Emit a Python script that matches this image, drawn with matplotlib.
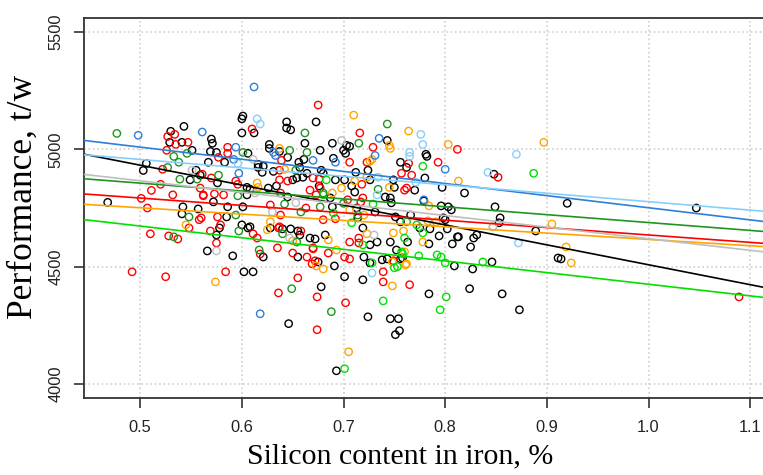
import numpy as np
import matplotlib
matplotlib.use("Agg")
from matplotlib import pyplot as plt

# (silicon %, performance t/w) per group
black = [(0.468,4774),(0.506,4940),(0.503,4910),(0.543,5098),(0.530,5077),(0.529,5030),(0.541,5030),(0.551,4996),
         (0.555,4911),(0.559,4890),(0.549,4870),(0.542,4755),(0.541,4725),(0.557,4746),
         (0.601,5142),(0.600,5130),(0.644,5117),(0.644,5091),(0.648,5083),(0.600,5070),(0.612,5070),(0.662,5026),
         (0.570,5044),(0.571,5026),(0.569,4991),(0.575,4987),(0.606,4983),(0.627,5021),(0.627,5004),(0.637,4991),
         (0.645,4966),(0.656,4945),(0.661,4957),(0.567,4945),(0.583,4945),(0.616,4936),(0.621,4928),(0.616,4923),
         (0.620,4902),(0.631,4906),(0.657,4923),(0.664,4898),(0.654,4878),(0.576,4857),(0.605,4838),(0.608,4830),
         (0.626,4835),(0.634,4844),(0.650,4870),(0.660,4881),(0.605,4806),(0.645,4797),(0.572,4776),(0.586,4755),
         (0.585,4712),(0.601,4755),(0.600,4678),(0.608,4670),
         (0.673,5117),(0.689,5026),(0.703,5017),(0.706,5013),(0.743,5038),(0.700,4996),(0.702,4983),(0.677,4996),
         (0.690,4962),(0.756,4945),(0.762,4923),(0.712,4902),(0.724,4911),(0.678,4911),(0.680,4898),(0.726,4870),
         (0.749,4870),(0.701,4870),(0.692,4870),(0.708,4844),(0.676,4844),(0.750,4838),(0.770,4826),(0.711,4818),
         (0.741,4797),(0.746,4793),(0.747,4772),(0.687,4793),(0.689,4755),(0.713,4750),(0.731,4733),(0.714,4708),
         (0.751,4712),(0.756,4691),(0.766,4720),(0.775,4665),
         (0.781,4979),(0.782,4970),(0.848,4894),(0.780,4878),(0.797,4838),(0.819,4814),(0.779,4780),(0.796,4759),
         (0.803,4755),(0.806,4742),(0.849,4755),(0.854,4708),(0.853,4687),(0.798,4708),(0.800,4700),
         (1.047,4750),(0.920,4770),(0.889,4652),(0.812,4627),(0.831,4635),(0.828,4622),(0.802,4661),(0.914,4533),
         (0.873,4316),(0.856,4384),(0.824,4406),(0.784,4384),(0.754,4278),(0.751,4210),(0.755,4227),(0.846,4520),
         (0.827,4490),(0.809,4503),(0.784,4597),(0.807,4597),(0.825,4584),(0.756,4533),(0.813,4627),(0.794,4631),
         (0.785,4661),(0.911,4537),
         (0.678,4414),(0.693,4056),(0.724,4286),(0.746,4278),(0.701,4457),(0.719,4444),(0.691,4503),(0.675,4520),
         (0.726,4516),(0.738,4529),(0.743,4533),(0.758,4537),(0.720,4541),(0.726,4593),(0.733,4605),(0.746,4605),
         (0.682,4635),(0.672,4618),(0.752,4571),(0.763,4605),(0.719,4665),
         (0.646,4257),(0.602,4478),(0.611,4478),(0.591,4546),(0.566,4567),(0.575,4635),(0.578,4665),(0.606,4665),
         (0.621,4541),(0.628,4665),(0.640,4661),(0.648,4661),(0.655,4652),(0.657,4635),(0.655,4541),(0.667,4622)]

red = [(0.501,4791),(0.511,4825),(0.520,4851),(0.507,4750),(0.492,4478),(0.525,4457),(0.510,4640),(0.528,4631),
       (0.537,4618),(0.548,4665),(0.527,5055),(0.534,5064),(0.535,5021),(0.547,5030),(0.526,4996),(0.522,4915),
       (0.559,4835),(0.532,4806),(0.562,4802),(0.558,4700),(0.560,4708),
       (0.610,5087),(0.586,5009),(0.586,4983),(0.639,4953),(0.577,4966),(0.637,4911),(0.561,4894),(0.570,4878),
       (0.562,4806),(0.573,4810),(0.582,4806),(0.594,4865),(0.596,4851),(0.637,4870),(0.645,4865),(0.667,4826),
       (0.638,4814),(0.663,4750),(0.576,4712),(0.628,4763),(0.638,4720),(0.579,4678),(0.637,4670),
       (0.675,5189),(0.716,5070),(0.729,5009),(0.723,4945),(0.706,4945),(0.764,4940),(0.757,4898),(0.767,4890),
       (0.670,4878),(0.676,4873),(0.718,4851),(0.677,4835),(0.762,4835),(0.760,4826),(0.673,4806),(0.704,4785),
       (0.719,4793),(0.717,4776),(0.680,4700),(0.692,4704),
       (0.812,5000),(0.793,4945),(0.852,4881),
       (1.089,4371),(0.765,4423),(0.739,4478),(0.739,4435),(0.674,4371),(0.702,4346),(0.674,4231),(0.701,4541),
       (0.706,4533),(0.685,4558),(0.670,4576),(0.715,4601),(0.715,4622),(0.706,4605),(0.749,4525),(0.672,4525),
       (0.636,4388),(0.655,4452),(0.584,4478),(0.575,4601),(0.569,4652),(0.611,4640),(0.615,4622),(0.618,4554),
       (0.635,4580),(0.636,4665),(0.650,4558),(0.664,4541),(0.669,4512),(0.670,4580),(0.658,4652)]

orange = [(0.545,4678),(0.637,5004),(0.642,4915),(0.615,4857),(0.616,4838),(0.628,4691),(0.710,5146),(0.764,5078),
          (0.745,5017),(0.746,5004),(0.728,4957),(0.726,4949),(0.723,4881),(0.711,4865),(0.745,4838),(0.698,4835),
          (0.689,4814),(0.706,4742),(0.720,4720),(0.803,5021),(0.897,5030),(0.813,4865),(0.784,4759),(0.905,4682),
          (0.783,4695),(0.791,4691),(0.847,4670),(0.919,4584),(0.924,4516),(0.748,4418),(0.761,4507),(0.760,4563),
          (0.778,4605),(0.705,4137),(0.680,4490),(0.673,4503),(0.748,4520),(0.762,4512),(0.693,4571),(0.685,4614),
          (0.749,4644),(0.759,4652),(0.723,4640),(0.574,4435),(0.625,4657),(0.650,4610)]

lime = [(0.778,4928),(0.683,4870),(0.680,4806),(0.729,4767),(0.690,4729),(0.708,4687),(0.762,4691),(0.772,4678),
        (0.887,4898),(0.801,4371),(0.795,4316),(0.739,4354),(0.837,4520),(0.800,4516),(0.796,4541),(0.792,4550),
        (0.774,4546),(0.750,4495),(0.757,4563),(0.778,4644),(0.701,4065),(0.728,4516),(0.753,4500),(0.758,4555),
        (0.719,4593),(0.760,4622)]

dgreen = [(0.477,5068),(0.533,4627),(0.546,4983),(0.533,4970),(0.538,4945),(0.527,4923),(0.539,4873),(0.556,4873),
          (0.548,4712),(0.662,5070),(0.601,4987),(0.647,4996),(0.664,4987),(0.653,4911),(0.577,4890),(0.596,4802),
          (0.642,4767),(0.658,4733),(0.594,4720),(0.743,5108),(0.715,5026),(0.734,4830),(0.680,4814),(0.677,4755),
          (0.700,4770),(0.714,4720),(0.688,4308),(0.649,4406),(0.597,4652),(0.617,4571),(0.640,4640),(0.654,4605)]

blue = [(0.498,5060),(0.612,5266),(0.561,5074),(0.594,5009),(0.631,4987),(0.633,4974),(0.670,4953),(0.592,4957),
        (0.597,4898),(0.735,5047),(0.731,4974),(0.692,4945),(0.800,4915),(0.618,4299),(0.779,4785)]

skyblue = [(0.615,5130),(0.618,5108),(0.776,5064),(0.765,4987),(0.765,4970),(0.734,4881),(0.771,4860),(0.733,4806),
           (0.778,5021),(0.870,4979),(0.842,4902),(0.872,4601),(0.728,4473),(0.596,4940)]

gray = [(0.551,4911),(0.611,4957),(0.613,4814),(0.653,4772),(0.630,4733),(0.698,5038),(0.847,4670),(0.575,4567),
        (0.647,4622),(0.730,4635)]

# regression lines: intercept, slope
fit_icpt = {'black': 5357, 'red': 4950, 'orange': 4886, 'lime': 4921,
            'dgreen': 5024, 'blue': 5268, 'skyblue': 5137, 'gray': 5113}
fit_slope = {'black': -849, 'red': -315, 'orange': -270, 'lime': -496,
             'dgreen': -336, 'blue': -517, 'skyblue': -360, 'gray': -494}

colors = {'black': '#000000', 'red': '#ff0000', 'orange': '#ffa500', 'lime': '#00e000',
          'dgreen': '#1e961e', 'blue': '#2f7ed8', 'skyblue': '#87cefa', 'gray': '#bebebe'}
groups = {'black': black, 'red': red, 'orange': orange, 'lime': lime,
          'dgreen': dgreen, 'blue': blue, 'skyblue': skyblue, 'gray': gray}

fig = plt.figure(figsize=(7.63, 4.75), dpi=100)
ax = fig.add_axes([84/763, 77/475, 1 - 84/763, 380/475])

for name, pts in groups.items():
    p = np.array(pts).T
    ax.scatter(p[0], p[1], s=28, facecolors='none', edgecolors=colors[name], linewidths=1.0, zorder=2)

for name in groups:
    ax.axline((0, fit_icpt[name]), slope=fit_slope[name], color=colors[name], lw=1.2, zorder=3)

ax.set_xlim(0.4447, 1.1126)
ax.set_ylim(3940, 5560)
ax.set_xticks([0.5, 0.6, 0.7, 0.8, 0.9, 1.0, 1.1])
ax.set_xticklabels(['0.5', '0.6', '0.7', '0.8', '0.9', '1.0', '1.1'])
ax.set_yticks([4000, 4500, 5000, 5500])
ax.grid(color='#d0d0d0', linestyle=':', linewidth=1.2, zorder=0)
ax.set_axisbelow(True)

for s in ['left', 'top', 'bottom']:
    ax.spines[s].set_color('#333333')
    ax.spines[s].set_linewidth(1.3)
ax.spines['right'].set_visible(False)

ax.tick_params(direction='out', length=7, width=1.2, color='#333333', labelcolor='#222222',
               labelsize=11.8, labelfontfamily='Liberation Sans')
ax.tick_params(axis='x', pad=9)
ax.tick_params(axis='y', pad=8)
for lab in ax.get_yticklabels():
    lab.set_rotation(90)
    lab.set_va('center')

ax.set_xlabel('Silicon content in iron, %', fontfamily='Liberation Serif', fontsize=21.5, labelpad=6)
ax.xaxis.label.set_x(0.465)
ax.set_ylabel('Performance, t/w', fontfamily='Liberation Serif', fontsize=25.5, labelpad=6)
ax.yaxis.label.set_y(0.53)

fig.savefig('out.png', dpi=100)
